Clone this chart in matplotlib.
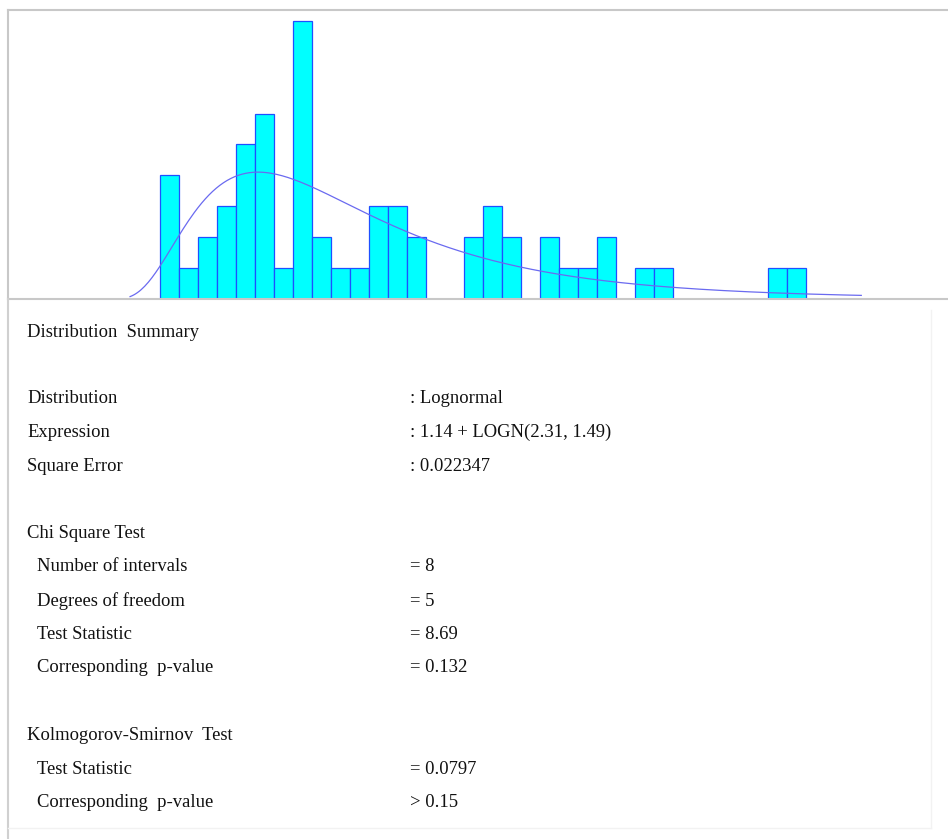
import numpy as np
import matplotlib
matplotlib.use("Agg")
import matplotlib.pyplot as plt

# histogram counts (34 bins)
bin_start = 1.66
bin_width = 0.165
counts = [4, 1, 2, 3, 5, 6, 1, 9, 2, 1, 1, 3, 3, 2, 0, 0, 2, 3, 2, 0,
          2, 1, 1, 2, 0, 1, 1, 0, 0, 0, 0, 0, 1, 1]

# fitted distribution: 1.14 + LOGN(2.31, 1.49)
fit_offset = 1.14
fit_mean = 2.31
fit_std = 1.49
curve_range = (1.40, 7.75)

summary_rows = [
    ("Distribution  Summary", "", 0),
    ("Distribution", ": Lognormal", 0),
    ("Expression", ": 1.14 + LOGN(2.31, 1.49)", 0),
    ("Square Error", ": 0.022347", 0),
    ("Chi Square Test", "", 0),
    ("Number of intervals", "= 8", 1),
    ("Degrees of freedom", "= 5", 1),
    ("Test Statistic", "= 8.69", 1),
    ("Corresponding  p-value", "= 0.132", 1),
    ("Kolmogorov-Smirnov  Test", "", 0),
    ("Test Statistic", "= 0.0797", 1),
    ("Corresponding  p-value", "> 0.15", 1),
]
row_baseline = [337, 403, 437, 471, 538, 571, 606, 639, 672, 740, 774, 807]

W, H = 948, 839
px_per_unit = 646 / (len(counts) * bin_width)

fig = plt.figure(figsize=(W / 100, H / 100), dpi=100)

ax = fig.add_axes([8 / W, 1 - 299 / H, 1 - 8 / W, 289 / H])
edges = bin_start + bin_width * np.arange(len(counts) + 1)
ax.bar(edges[:-1], counts, width=bin_width, align="edge",
       color="#00ffff", edgecolor="#1f4fff", linewidth=0.9, zorder=2)

# lognormal pdf scaled to counts
s2 = np.log(1 + (fit_std / fit_mean) ** 2)
mu = np.log(fit_mean) - s2 / 2
x = np.linspace(curve_range[0], curve_range[1], 400)
t = x - fit_offset
pdf = np.exp(-(np.log(t) - mu) ** 2 / (2 * s2)) / (t * np.sqrt(2 * np.pi * s2))
ax.plot(x, pdf * sum(counts) * bin_width, color="#6a6af0", linewidth=0.9, zorder=3)

ax.set_xlim(bin_start - 152 / px_per_unit, bin_start + 788 / px_per_unit)
ax.set_ylim(0, 9.35)
ax.set_xticks([])
ax.set_yticks([])
for side in ["top", "left", "bottom"]:
    ax.spines[side].set_color("#c8c8c8")
    ax.spines[side].set_linewidth(1.5)
ax.spines["right"].set_visible(False)

# text panel
fig.add_artist(plt.Line2D([8 / W, 8 / W], [0, 1 - 299 / H], transform=fig.transFigure,
                          color="#d0d0d0", linewidth=1.5))
fig.add_artist(plt.Line2D([8 / W, 931 / W], [1 - 828 / H, 1 - 828 / H], transform=fig.transFigure,
                          color="#f2f2f2", linewidth=1))
fig.add_artist(plt.Line2D([931 / W, 931 / W], [1 - 828 / H, 1 - 310 / H], transform=fig.transFigure,
                          color="#f2f2f2", linewidth=1))

font = dict(family="Liberation Serif", fontsize=13.4, color="#111111", va="baseline")
for (label, value, indent), y in zip(summary_rows, row_baseline):
    fig.text((27 + 10 * indent) / W, 1 - y / H, label, **font)
    if value:
        fig.text(410 / W, 1 - y / H, value, **font)

fig.savefig("out.png", dpi=100)
